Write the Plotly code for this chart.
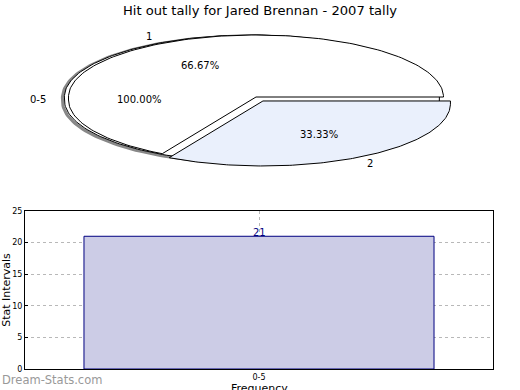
import numpy as np
import plotly.graph_objects as go

# ---- data ----
title = "Hit out tally for Jared Brennan - 2007 tally"
outer_label = "0-5"
outer_pct = 100.00
slice_labels = ["1", "2"]
slice_pct = [66.67, 33.33]
slice_colors = ["#ffffff", "#eaf0fc"]
bar_categories = ["0-5"]
bar_values = [21]
x_title = "Frequency"
y_title = "Stat Intervals"

W, H = 520, 390
FONT = "DejaVu Sans"

# ellipse geometry (pixel units of the pie axes)
cx, cy, rx, ry, depth = 256.0, 97.0, 187.5, 62.0, 3.0
explode = {"0-5": 0.022, "1": 0.0, "2": 0.074}
LABEL_R = 1.14


def pt(a_deg, r=1.0, off=(0.0, 0.0), d=0.0):
    a = np.radians(a_deg)
    x = cx + off[0] + r * rx * np.cos(a)
    y = cy + off[1] - r * ry * np.sin(a)
    if d and np.sin(a) < -1e-9:
        y = y + d
    return x, y


def offset(mid, e):
    a = np.radians(mid)
    return (e * rx * np.cos(a), -e * ry * np.sin(a))


fig = go.Figure()

# outer (background) ring slice 0-5 : full ellipse
mid0 = 360 * outer_pct / 100 / 2
off0 = offset(mid0, explode[outer_label])
ang = np.linspace(0, 360 * outer_pct / 100, 241)
for extra, col, wd in [((-2.0, 1.0), "#888888", 3), ((0, 0), "#000000", 1)]:
    o = (off0[0] + extra[0], off0[1] + extra[1])
    xs, ys = zip(*[pt(a, 1, o, depth) for a in ang])
    fig.add_trace(go.Scatter(x=xs, y=ys, mode="lines", fill="toself",
                             fillcolor="#ffffff", line=dict(color=col, width=wd),
                             hoverinfo="skip", xaxis="x2", yaxis="y2", showlegend=False))

lx, ly = pt(mid0, LABEL_R, off0)
fig.add_annotation(x=lx, y=ly + 2, xref="x2", yref="y2", text=outer_label, showarrow=False,
                   font=dict(family=FONT, size=10, color="#000"))
px_, py_ = pt(mid0, 0.6, off0)
fig.add_annotation(x=px_, y=py_ + 2, xref="x2", yref="y2", text=f"{outer_pct:.2f}%",
                   showarrow=False, font=dict(family=FONT, size=10, color="#000"))

# inner slices
start = 0.0
for lab, pct, colr in zip(slice_labels, slice_pct, slice_colors):
    span = 360 * pct / 100
    mid = start + span / 2
    o = offset(mid, explode[lab])
    a = np.linspace(start, start + span, 161)
    apex = (cx + o[0], cy + o[1])
    pts = [apex] + [pt(v, 1, o, depth) for v in a]
    if abs((start + span) % 360) < 1e-6:
        pts.append(pt(start + span + 1e-4, 1, o, 0))
    if abs(start % 360) < 1e-6:
        pts.insert(1, pt(start, 1, o, 0))
    pts.append(apex)
    xs, ys = zip(*pts)
    fig.add_trace(go.Scatter(x=xs, y=ys, mode="lines", fill="toself", fillcolor=colr,
                             line=dict(color="#000000", width=1), hoverinfo="skip",
                             xaxis="x2", yaxis="y2", showlegend=False))
    lx, ly = pt(mid, LABEL_R, o)
    fig.add_annotation(x=lx, y=ly + 1, xref="x2", yref="y2", text=lab, showarrow=False,
                       font=dict(family=FONT, size=10, color="#000"))
    px_, py_ = pt(mid, 0.6, o)
    fig.add_annotation(x=px_, y=py_ + 1, xref="x2", yref="y2", text=f"{pct:.2f}%",
                       showarrow=False, font=dict(family=FONT, size=10, color="#000"))
    start += span

# bar chart
fig.add_trace(go.Bar(x=bar_categories, y=bar_values, width=0.748,
                     marker=dict(color="#ccccE6", line=dict(color="#000080", width=1)),
                     xaxis="x", yaxis="y", showlegend=False, hoverinfo="x+y"))
for c, v in zip(bar_categories, bar_values):
    fig.add_annotation(x=c, y=v, xref="x", yref="y", text=str(v), showarrow=False,
                       yanchor="middle", yshift=4,
                       font=dict(family=FONT, size=10, color="#000080"))

fig.update_layout(
    width=W, height=H,
    margin=dict(l=0, r=0, t=0, b=0, autoexpand=False),
    paper_bgcolor="white", plot_bgcolor="white",
    title=dict(text=title, x=0.5, xanchor="center", y=1 - 10 / H, yanchor="middle",
               font=dict(family=FONT, size=13.1, color="#000")),
    xaxis2=dict(domain=[0, 1], range=[0, W], visible=False, fixedrange=True,
                automargin=False),
    yaxis2=dict(domain=[1 - 185 / H, 1 - 20 / H], range=[185, 20], visible=False,
                fixedrange=True, automargin=False),
    xaxis=dict(domain=[25 / W, 493 / W], range=[-0.5, 0.5], showline=True, mirror=True,
               linecolor="#000", linewidth=1, showgrid=True, gridcolor="#b8b8b8",
               griddash="dot", ticks="", tickfont=dict(family=FONT, size=8, color="#000"),
               anchor="y", automargin=False),
    yaxis=dict(domain=[(H - 369) / H, (H - 211) / H], range=[0, 25], dtick=5,
               showline=True, mirror=True, linecolor="#000", linewidth=1,
               showgrid=True, gridcolor="#b8b8b8", griddash="dot",
               ticks="inside", ticklen=3, tickcolor="#000",
               tickfont=dict(family=FONT, size=8, color="#000"),
               title=dict(text=y_title, font=dict(family=FONT, size=11, color="#000"),
                          standoff=4),
               zeroline=False, anchor="x", automargin=False),
)

# x-axis title (sits at the very bottom edge, as in the reference)
fig.add_annotation(x=259 / W, y=1 - 388 / H, xref="paper", yref="paper", yanchor="middle",
                   xanchor="center", text=x_title, showarrow=False,
                   font=dict(family=FONT, size=11, color="#000"))

fig.add_annotation(x=0, y=1 - 380 / H, xref="paper", yref="paper", yanchor="middle",
                   xanchor="left", text="Dream-Stats.com", showarrow=False,
                   font=dict(family=FONT, size=11.5, color="#999999"))

fig.write_html("out.html", config={"displayModeBar": False},
               post_script="document.body.style.margin='0';")
